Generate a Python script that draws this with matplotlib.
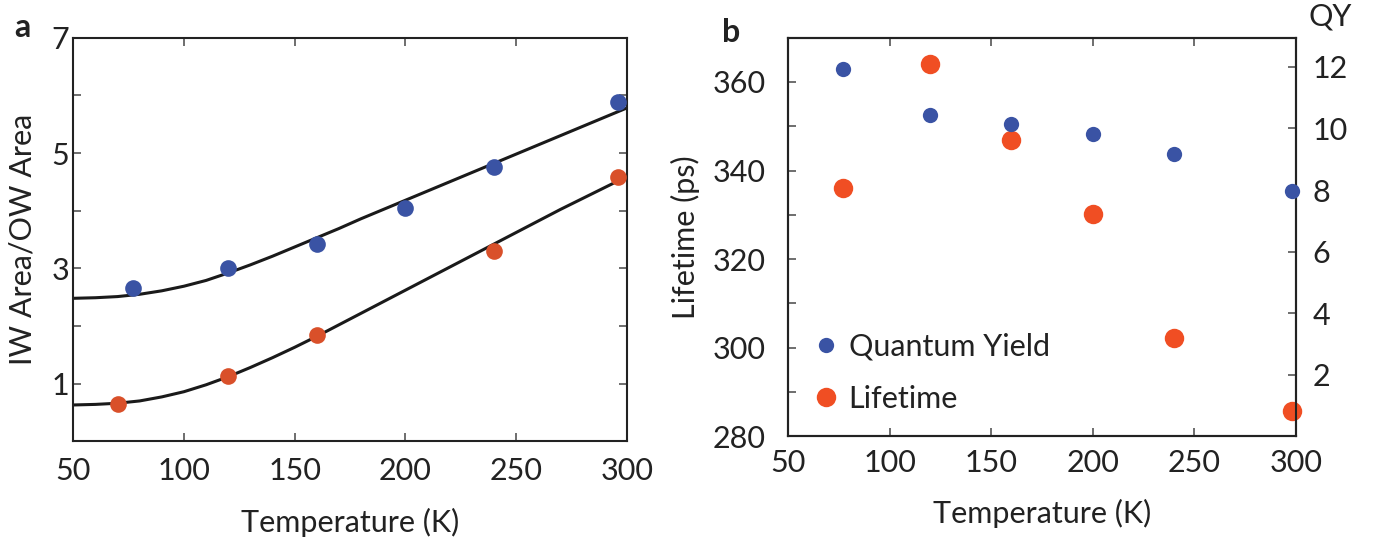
import matplotlib
matplotlib.use('Agg')
import matplotlib.pyplot as plt
from matplotlib.lines import Line2D
from matplotlib.ticker import MultipleLocator, FixedLocator

plt.rcParams['font.family'] = ['Lato', 'DejaVu Sans']

# panel a: IW/OW area ratio
temp_a_blue = [77, 120, 160, 200, 240, 296]
ratio_blue = [2.66, 3.01, 3.43, 4.05, 4.76, 5.88]
temp_a_red = [70, 120, 160, 240, 296]
ratio_red = [0.65, 1.13, 1.84, 3.30, 4.58]

# fit curves
fit_temp = [50, 60, 70, 80, 90, 100, 110, 120, 130, 140, 150, 160, 170, 180,
            190, 200, 210, 220, 230, 240, 250, 260, 270, 280, 290, 300]
fit_blue = [2.48, 2.49, 2.51, 2.55, 2.61, 2.69, 2.79, 2.92, 3.06, 3.21, 3.37,
            3.53, 3.69, 3.86, 4.02, 4.18, 4.34, 4.50, 4.66, 4.82, 4.98, 5.14,
            5.30, 5.46, 5.62, 5.78]
fit_red = [0.63, 0.64, 0.66, 0.70, 0.77, 0.86, 0.98, 1.12, 1.28, 1.45, 1.63,
           1.82, 2.02, 2.22, 2.42, 2.62, 2.82, 3.02, 3.22, 3.42, 3.62, 3.82,
           4.02, 4.21, 4.40, 4.59]

# panel b: quantum yield and lifetime
temp_b = [77, 120, 160, 200, 240, 298]
qy = [11.94, 10.45, 10.16, 9.82, 9.17, 7.98]
lifetime = [336.0, 364.0, 347.0, 330.1, 302.1, 285.6]

blue = '#3a53a4'
red_a = '#d9502a'
red_b = '#f04e23'
FS = 22
TXT = '#222222'

fig = plt.figure(figsize=(13.77, 5.41), dpi=100)
ax1 = fig.add_axes([0.0532, 0.1843, 0.4019, 0.746])
ax2 = fig.add_axes([0.5723, 0.1937, 0.3687, 0.7366])


def style(ax):
    for s in ax.spines.values():
        s.set_linewidth(1.5)
        s.set_color(TXT)
    ax.tick_params(which='both', direction='in', length=6, width=1.2,
                   color='#555555', labelsize=FS, labelcolor=TXT)


# ---- panel a ----
ax1.plot(fit_temp, fit_blue, color='#1a1a1a', lw=2.2, zorder=2)
ax1.plot(fit_temp, fit_red, color='#1a1a1a', lw=2.2, zorder=2)
ax1.plot(temp_a_blue, ratio_blue, 'o', color=blue, ms=12, mec='none', zorder=3)
ax1.plot(temp_a_red, ratio_red, 'o', color=red_a, ms=12, mec='none', zorder=3)
ax1.set_xlim(50, 300)
ax1.set_ylim(0, 7)
ax1.set_xticks([50, 100, 150, 200, 250, 300])
ax1.yaxis.set_major_locator(FixedLocator([1, 3, 5, 7]))
ax1.yaxis.set_minor_locator(MultipleLocator(1))
style(ax1)
ax1.tick_params(which='both', top=True, right=True)
ax1.tick_params(axis='x', pad=11)
ax1.tick_params(axis='y', pad=3)
ax1.set_xlabel('Temperature (K)', fontsize=FS, labelpad=17, color=TXT)
ax1.set_ylabel('IW Area/OW Area', fontsize=FS, color=TXT)
ax1.yaxis.set_label_coords(-0.066, 0.5)
fig.text(0.010, 0.932, 'a', fontsize=23, fontweight='bold', color=TXT)

# ---- panel b ----
ax2.plot(temp_b, lifetime, 'o', color=red_b, ms=14, mec='none', zorder=3,
         clip_on=False)
ax2.set_xlim(50, 300)
ax2.set_ylim(280, 370)
ax2.set_xticks([50, 100, 150, 200, 250, 300])
ax2.yaxis.set_major_locator(FixedLocator([280, 300, 320, 340, 360]))
ax2.yaxis.set_minor_locator(MultipleLocator(10))
style(ax2)
ax2.tick_params(which='both', top=True)
ax2.tick_params(axis='x', pad=9)
ax2.tick_params(axis='y', pad=16)
ax2.set_xlabel('Temperature (K)', fontsize=FS, labelpad=16, color=TXT)
ax2.set_ylabel('Lifetime (ps)', fontsize=FS, color=TXT)
ax2.yaxis.set_label_coords(-0.173, 0.5)

ax3 = ax2.twinx()
ax3.plot(temp_b, qy, 'o', color=blue, ms=11, mec='none', zorder=3,
         clip_on=False)
ax3.set_ylim(0, 12.95)
ax3.set_yticks([2, 4, 6, 8, 10, 12])
style(ax3)
ax3.tick_params(axis='y', pad=12)
fig.text(1308 / 1377, 1 - 25 / 541, 'QY', fontsize=FS, color=TXT,
         va='baseline', ha='left')
fig.text(0.524, 0.922, 'b', fontsize=23, fontweight='bold', color=TXT)

handles = [Line2D([], [], ls='none', marker='o', color=blue, ms=11, mec='none'),
           Line2D([], [], ls='none', marker='o', color=red_b, ms=14, mec='none')]
ax2.legend(handles, ['Quantum Yield', 'Lifetime'], loc='lower left',
           bbox_to_anchor=(-0.01, -0.01), frameon=False, fontsize=FS,
           handletextpad=0.25, labelspacing=0.8, handlelength=1.0,
           labelcolor=TXT)

fig.savefig('out.png', dpi=100)
